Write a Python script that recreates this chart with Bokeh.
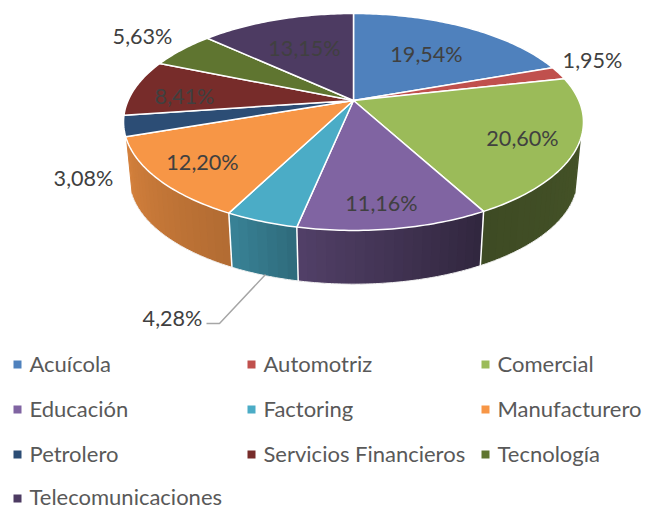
import numpy as np
from bokeh.plotting import figure
from bokeh.models import Range1d
from bokeh.core.properties import value
from bokeh.embed import file_html
from bokeh.resources import INLINE

categories = ["Acuícola", "Automotriz", "Comercial", "Educación", "Factoring",
              "Manufacturero", "Petrolero", "Servicios Financieros", "Tecnología",
              "Telecomunicaciones"]
shares = [19.54, 1.95, 20.60, 11.16, 4.28, 12.20, 3.08, 8.41, 5.63, 13.15]
share_labels = ["19,54%", "1,95%", "20,60%", "11,16%", "4,28%", "12,20%", "3,08%", "8,41%", "5,63%", "13,15%"]
colors = ["#4F81BD", "#C0504D", "#9BBB59", "#8064A2", "#4BACC6",
          "#F79646", "#2C4D75", "#772C2A", "#5F7530", "#4D3B62"]

# Placement of the annotations (page pixels)
label_x = [426, 592, 522, 381, 172, 202, 83, 184, 142, 304]
label_y = [53, 59, 137, 202, 317, 161, 177, 95, 35, 47]
legend_col_x = [17, 251, 485]
legend_row_y = [364, 409, 454, 498]
legend_text_y = [363, 408, 453, 495.5]

# Projection of the tilted disc
CX, CY = 353.0, 100.0
A, B, E = 225.4, 104.2, 0.198
SHRINK, DEPTH = 0.975, 57.0
VIS_START, VIS_END = 109.4, 250.6


def rim(theta_deg, bottom=False):
    t = np.radians(np.asarray(theta_deg, dtype=float))
    u, v = np.sin(t), np.cos(t)
    w = 1 + E * v
    x, y = A * u / w, B * v / w
    if bottom:
        return CX + SHRINK * x, CY - SHRINK * y + DEPTH
    return CX + x, CY - y


def shade(theta):
    return np.interp(theta, [109, 151.4, 151.6, 191.7, 191.8, 207.0, 207.1, 251],
                     [0.44, 0.40, 0.38, 0.64, 0.62, 0.76, 0.72, 0.86])


def mix(hex_color, k):
    rgb = [int(hex_color[i:i + 2], 16) for i in (1, 3, 5)]
    return "#%02x%02x%02x" % tuple(int(round(c * k)) for c in rgb)


edges = np.concatenate([[0], np.cumsum(shares)]) * 3.6
edges[-1] = 360.0

p = figure(width=648, height=509, x_range=Range1d(0, 648), y_range=Range1d(509, 0),
           output_backend="svg", toolbar_location=None, min_border=0,
           outline_line_color=None, background_fill_color="white", border_fill_color="white")
p.axis.visible = False
p.grid.visible = False

# Side walls, shaded in narrow overlapping bands
wx, wy, wc = [], [], []
for i, col in enumerate(colors):
    a, b = max(edges[i], VIS_START), min(edges[i + 1], VIS_END)
    if b <= a:
        continue
    ticks = np.linspace(a, b, max(2, int((b - a) / 2) + 1))
    for t0, t1 in zip(ticks[:-1], ticks[1:]):
        t2 = min(t1 + 1.0, b)
        x0, y0 = rim([t0, t2])
        x1, y1 = rim([t2, t0], bottom=True)
        wx.append(list(x0) + list(x1))
        wy.append(list(y0) + list(y1))
        wc.append(mix(col, float(shade((t0 + t1) / 2))))
p.patches(wx, wy, fill_color=wc, line_color=None)

# Light edges of the walls
arc = np.linspace(VIS_START, VIS_END, 200)
bx, by = rim(arc, bottom=True)
p.line(bx, by, line_color="#f2f2f2", line_width=1)
for e in edges:
    if VIS_START < e < VIS_END:
        tx, ty = rim([e])
        ux, uy = rim([e], bottom=True)
        p.line([tx[0], ux[0]], [ty[0], uy[0]], line_color="white", line_width=1.5)

# Top faces
cx_list, cy_list = [], []
for i in range(len(shares)):
    ang = np.linspace(edges[i], edges[i + 1], max(3, int(edges[i + 1] - edges[i]) + 2))
    x, y = rim(ang)
    cx_list.append([CX] + list(x))
    cy_list.append([CY] + list(y))
p.patches(cx_list, cy_list, fill_color=colors, line_color="white", line_width=1.5, line_join="round")

# Leader line of the Factoring label
p.line([206, 219, 265], [323, 323, 274], line_color="#a6a6a6", line_width=1.5)

# Data labels
p.text(x=label_x, y=label_y, text=share_labels, text_align="center", text_baseline="middle",
       text_font=value("Lato"), text_font_size="21.6px", text_color="#404040")

# Legend
lx, ly, ltx, lty = [], [], [], []
for i, name in enumerate(categories):
    r, c = divmod(i, 3)
    lx.append(legend_col_x[c])
    ly.append(legend_row_y[r])
    ltx.append(legend_col_x[c] + 12)
    lty.append(legend_text_y[r])
p.scatter(lx, ly, marker="square", size=8, fill_color=colors, line_color=None)
p.text(x=ltx, y=lty, text=categories, text_align="left", text_baseline="middle",
       text_font=value("Lato"), text_font_size="22px", text_color="#595959")

open("out.html", "w").write(file_html(p, INLINE))
